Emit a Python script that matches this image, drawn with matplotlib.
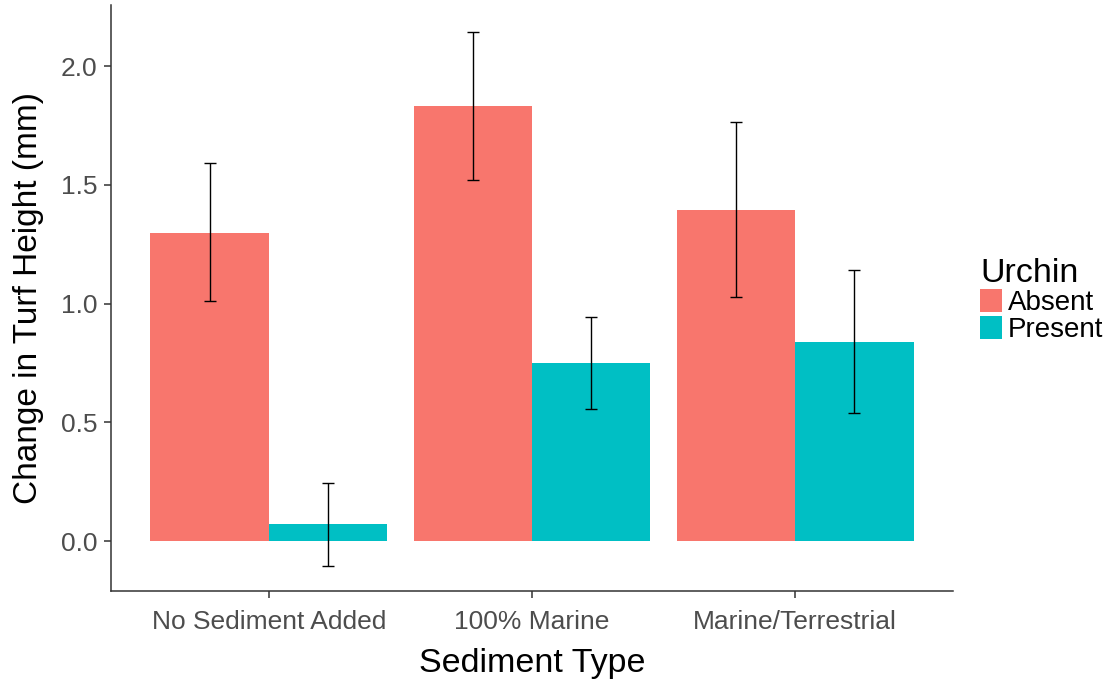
import matplotlib
matplotlib.use("Agg")
import matplotlib.pyplot as plt
import numpy as np
from matplotlib.patches import Patch

categories = ["No Sediment Added", "100% Marine", "Marine/Terrestrial"]
groups = ["Absent", "Present"]
absent_mean = [1.297, 1.832, 1.394]
absent_lo = [1.011, 1.520, 1.027]
absent_hi = [1.592, 2.143, 1.764]
present_mean = [0.072, 0.749, 0.838]
present_lo = [-0.105, 0.556, 0.539]
present_hi = [0.244, 0.943, 1.141]
colors = ["#F8766D", "#00BFC4"]

plt.rcParams['font.family'] = ['Liberation Sans', 'DejaVu Sans']

fig = plt.figure(figsize=(11.08, 6.81), dpi=100)
ax = fig.add_axes([111/1108, 1-591/681, (953-111)/1108, (591-5)/681])

x = np.arange(1, len(categories)+1)
w = 0.45
means = [absent_mean, present_mean]
los = [absent_lo, present_lo]
his = [absent_hi, present_hi]
for i, g in enumerate(groups):
    xs = x + (i - 0.5) * w
    ax.bar(xs, means[i], width=w, color=colors[i], align='center', zorder=2)
    m = np.array(means[i]); lo = np.array(los[i]); hi = np.array(his[i])
    ax.errorbar(xs, m, yerr=[m - lo, hi - m], fmt='none', ecolor='black',
                elinewidth=1.0, capsize=4.5, capthick=1.0, zorder=3)

ax.set_xlim(0.4, 3.6)
ax.set_ylim(-0.21, 2.257)
ax.set_xticks(x)
ax.set_xticklabels(categories)
ax.set_yticks([0.0, 0.5, 1.0, 1.5, 2.0])
ax.set_yticklabels(["0.0", "0.5", "1.0", "1.5", "2.0"])
ax.tick_params(axis='both', labelsize=19, colors='#333333', length=5, width=1.1)
ax.tick_params(axis='x', pad=9)
ax.tick_params(axis='y', pad=5)
ax.tick_params(axis='both', labelcolor='#4D4D4D')
for s in ['top', 'right']:
    ax.spines[s].set_visible(False)
for s in ['left', 'bottom']:
    ax.spines[s].set_color('#333333')
    ax.spines[s].set_linewidth(1.1)
ax.set_xlabel("Sediment Type", fontsize=24.5, color='black', labelpad=10)
ax.set_ylabel("Change in Turf Height (mm)", fontsize=24, color='black', labelpad=12)

handles = [Patch(facecolor=colors[0], label="Absent"), Patch(facecolor=colors[1], label="Present")]
leg = fig.legend(handles=handles, title="Urchin", loc='upper left',
                 bbox_to_anchor=(980/1108, 1-258/681), frameon=False,
                 fontsize=20, title_fontsize=24.5, handlelength=0.8, handleheight=0.9,
                 handletextpad=0.2, labelspacing=0.0, borderaxespad=0, borderpad=0)
leg._legend_box.align = "left"

fig.savefig("out.png", dpi=100)
